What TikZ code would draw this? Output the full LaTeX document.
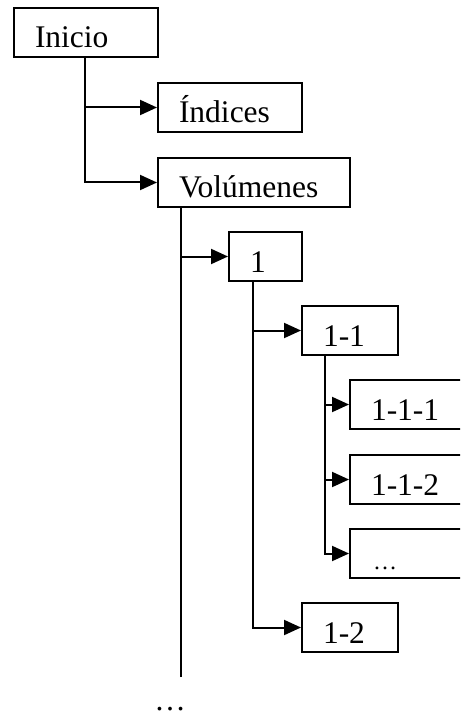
\documentclass[tikz,border=0pt]{standalone}
\usepackage{fontspec}
\setmainfont{Liberation Serif}
\usetikzlibrary{arrows.meta}
\begin{document}
\begin{tikzpicture}[x=1pt,y=-1pt,
  box/.style={draw, line width=2pt, anchor=north west, inner xsep=21pt, inner ysep=0pt,
    text height=40pt, text depth=9pt, align=left,
    font=\fontsize{31.5pt}{36pt}\selectfont},
  conn/.style={line width=2pt, -{Triangle[length=17pt,width=15pt]}},
  trunk/.style={line width=2pt}]
\clip (0,0) rectangle (460,719);
\fill[white] (0,0) rectangle (460,719);
\node[box, text width=102pt] (inicio) at (13,7) {Inicio};
\node[box, text width=102pt] (indices) at (157,82) {Índices};
\node[box, text width=150pt] (vol) at (157,157) {Volúmenes};
\node[box, text width=31pt] (one) at (228,231) {1};
\node[box, text width=54pt] (oneone) at (301,305) {1-1};
\node[box, text width=88pt] (b111) at (349,379) {1-1-1};
\node[box, text width=88pt] (b112) at (349,454) {1-1-2};
\node[box, text width=88pt] (bdots) at (349,528) {\hspace*{2pt}\fontsize{24pt}{26pt}\selectfont …};
\node[box, text width=54pt] (onetwo) at (301,602) {1-2};
\node[anchor=base, inner sep=0pt, font=\fontsize{31.5pt}{36pt}\selectfont] (more) at (170,710) {…};
\coordinate (vend) at (181,677);
% connectors
\draw[conn] (inicio.south west) ++(72,0) |- (indices.west);
\draw[conn] (inicio.south west) ++(72,0) |- (vol.west);
\draw[trunk] (vend) -- (vend |- vol.south);
\draw[conn] (vol.south west) ++(24,0) |- (one.west);
\draw[conn] (one.south west) ++(25,0) |- (oneone.west);
\draw[conn] (one.south west) ++(25,0) |- (onetwo.west);
\draw[conn] (oneone.south west) ++(24,0) |- (b111.west);
\draw[conn] (oneone.south west) ++(24,0) |- (b112.west);
\draw[conn] (oneone.south west) ++(24,0) |- (bdots.west);
\end{tikzpicture}
\end{document}
